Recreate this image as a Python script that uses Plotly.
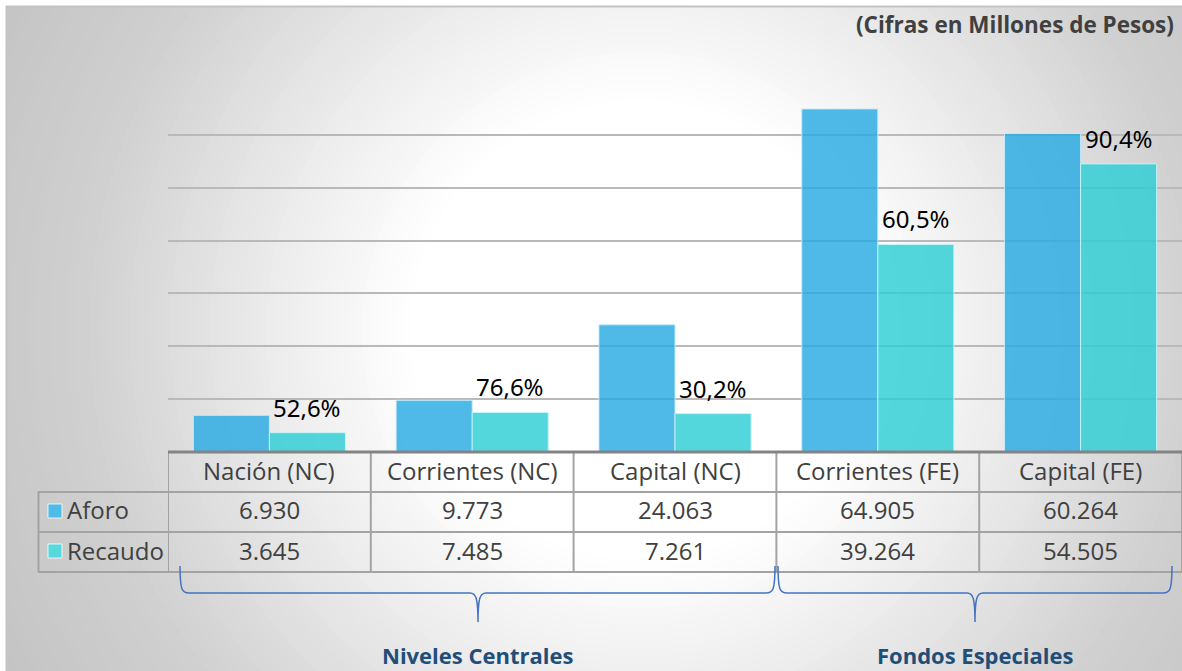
import plotly.graph_objects as go

# ---------------- data ----------------
categorias = ["Nación (NC)", "Corrientes (NC)", "Capital (NC)", "Corrientes (FE)", "Capital (FE)"]
aforo = [6930, 9773, 24063, 64905, 60264]
recaudo = [3645, 7485, 7261, 39264, 54505]
porcentaje = [52.6, 76.6, 30.2, 60.5, 90.4]
series = ["Aforo", "Recaudo"]
grupos = ["Niveles Centrales", "Fondos Especiales"]
titulo = "(Cifras en Millones de Pesos)"

# ---------------- geometry helpers ----------------
W, H = 1182, 671
def px(x):
    return x / W
def py(y):
    return 1 - y / H

C_AFORO = "rgba(40,170,226,0.82)"
C_RECAUDO = "rgba(45,206,214,0.82)"
C_AFORO_SOLID = "#4FBBE8"
C_RECAUDO_SOLID = "#57D8DE"
TXT = "#404040"
BLUE = "#4472C4"
DARKBLUE = "#1F4E79"
BARGAP = 0.25

fig = go.Figure()
fig.add_trace(go.Bar(
    x=categorias, y=aforo, name=series[0],
    marker=dict(color=C_AFORO, line=dict(color="rgba(200,236,252,0.9)", width=1)),
    hoverinfo="x+y",
))
fig.add_trace(go.Bar(
    x=categorias, y=recaudo, name=series[1],
    marker=dict(color=C_RECAUDO, line=dict(color="rgba(200,245,248,0.9)", width=1)),
    hoverinfo="x+y",
))

shapes = []

# ---------------- background radial gradient ----------------
cx, cy = 640, 330
stops = [(0, 255), (230, 255), (400, 232), (560, 208), (720, 196), (950, 188)]
def gray_at(r):
    for (r0, g0), (r1, g1) in zip(stops[:-1], stops[1:]):
        if r <= r1:
            return g0 + (g1 - g0) * (r - r0) / (r1 - r0)
    return stops[-1][1]
r = 950
while r >= 230:
    g = int(round(gray_at(r)))
    shapes.append(dict(type="circle", xref="paper", yref="paper", layer="below",
                       x0=px(cx - r), x1=px(cx + r), y0=py(cy + r), y1=py(cy - r),
                       fillcolor=f"rgb({g},{g},{g})", line=dict(width=0)))
    r -= 8
shapes.append(dict(type="rect", xref="paper", yref="paper", layer="below",
                   x0=px(-5), x1=px(W + 5), y0=py(6), y1=py(-5), fillcolor="white", line=dict(width=0)))
shapes.append(dict(type="rect", xref="paper", yref="paper", layer="below",
                   x0=px(-5), x1=px(6), y0=py(H + 5), y1=py(-5), fillcolor="white", line=dict(width=0)))
shapes.append(dict(type="line", xref="paper", yref="paper", layer="below",
                   x0=px(6), x1=px(W), y0=py(6.5), y1=py(6.5), line=dict(color="#c4c4c4", width=2)))
shapes.append(dict(type="line", xref="paper", yref="paper", layer="below",
                   x0=px(6.5), x1=px(6.5), y0=py(6), y1=py(H), line=dict(color="#c4c4c4", width=2)))

# ---------------- data table ----------------
GRID = "#a3a3a3"
n = len(categorias)
for k in range(n + 1):
    shapes.append(dict(type="line", xref="x", yref="paper", x0=k - 0.5, x1=k - 0.5,
                       y0=py(452), y1=py(572), line=dict(color=GRID, width=2)))
shapes.append(dict(type="line", xref="paper", yref="paper", x0=px(38.5), x1=px(38.5),
                   y0=py(492), y1=py(572), line=dict(color=GRID, width=2)))
for yy in (492, 532, 572):
    shapes.append(dict(type="line", xref="paper", yref="paper", x0=px(38), x1=px(W),
                       y0=py(yy), y1=py(yy), line=dict(color=GRID, width=2)))
shapes.append(dict(type="line", xref="paper", yref="paper", x0=px(168), x1=px(W),
                   y0=py(452), y1=py(452), line=dict(color="#848484", width=3)))

for j, (col, yc) in enumerate(((C_AFORO_SOLID, 511), (C_RECAUDO_SOLID, 551))):
    shapes.append(dict(type="rect", xref="paper", yref="paper",
                       x0=px(48), x1=px(62), y0=py(yc + 7), y1=py(yc - 7),
                       fillcolor=col, line=dict(color="rgba(255,255,255,0.8)", width=1)))

# ---------------- braces ----------------
def path(pts):
    out = []
    for cmd, coords in pts:
        s = " ".join(f"{px(a):.5f},{py(b):.5f}" for a, b in coords)
        out.append(f"{cmd} {s}")
    return " ".join(out)

def brace(x0, x1, xt, ytop=566, ymid=593, ytip=622):
    return path([
        ("M", [(x0, ytop)]),
        ("C", [(x0, ymid - 3), (x0 + 2, ymid), (x0 + 9, ymid)]),
        ("L", [(xt - 8, ymid)]),
        ("C", [(xt - 2, ymid), (xt, ymid + 5), (xt, ytip)]),
        ("C", [(xt, ymid + 5), (xt + 2, ymid), (xt + 8, ymid)]),
        ("L", [(x1 - 9, ymid)]),
        ("C", [(x1 - 2, ymid), (x1, ymid - 3), (x1, ytop)]),
    ])

shapes.append(dict(type="path", xref="paper", yref="paper", path=brace(180, 775, 478),
                   line=dict(color=BLUE, width=1.5)))
shapes.append(dict(type="path", xref="paper", yref="paper", path=brace(778, 1172, 975),
                   line=dict(color=BLUE, width=1.5)))

# ---------------- annotations ----------------
ann = []
TF = "Open Sans"
rec_offset = (1 - BARGAP) / 4  # centre of the second bar within its category
for i, p in enumerate(porcentaje):
    ann.append(dict(x=i + rec_offset, xref="x", y=recaudo[i], yref="y",
                    text=(f"{p:.1f}%").replace(".", ","), showarrow=False,
                    xanchor="center", yanchor="bottom", yshift=7,
                    font=dict(family="Noto Sans", size=24, color="#000000")))
for i, cat in enumerate(categorias):
    ann.append(dict(x=i, xref="x", y=py(470.5), yref="paper", text=cat, showarrow=False,
                    xanchor="center", yanchor="middle", font=dict(family=TF, size=24, color=TXT)))
    ann.append(dict(x=i, xref="x", y=py(510), yref="paper", text=f"{aforo[i]:,}".replace(",", "."),
                    showarrow=False, xanchor="center", yanchor="middle",
                    font=dict(family=TF, size=24, color=TXT)))
    ann.append(dict(x=i, xref="x", y=py(550), yref="paper", text=f"{recaudo[i]:,}".replace(",", "."),
                    showarrow=False, xanchor="center", yanchor="middle",
                    font=dict(family=TF, size=24, color=TXT)))
for s, yc in zip(series, (510, 550)):
    ann.append(dict(x=px(65), xref="paper", y=py(yc), yref="paper", text=s, showarrow=False,
                    xanchor="left", yanchor="middle", font=dict(family=TF, size=24, color=TXT)))

for g, xc in zip(grupos, (478, 975)):
    ann.append(dict(x=px(xc), xref="paper", y=py(655), yref="paper", text=f"<b>{g}</b>",
                    showarrow=False, xanchor="center", yanchor="middle",
                    font=dict(family=TF, size=22, color=DARKBLUE)))

ann.append(dict(x=px(1176), xref="paper", y=py(25), yref="paper", text=f"<b>{titulo}</b>",
                showarrow=False, xanchor="right", yanchor="middle",
                font=dict(family=TF, size=22.5, color=TXT)))

fig.update_layout(
    width=W, height=H,
    margin=dict(l=0, r=0, t=0, b=0, pad=0),
    paper_bgcolor="white", plot_bgcolor="rgba(0,0,0,0)",
    barmode="group", bargap=BARGAP, bargroupgap=0,
    showlegend=False,
    shapes=shapes, annotations=ann,
    xaxis=dict(domain=[px(168), 1], range=[-0.5, 4.5], showticklabels=False,
               showgrid=False, zeroline=False, showline=False, fixedrange=True),
    yaxis=dict(domain=[py(452), py(82)], range=[0, 70000], dtick=10000,
               showticklabels=False, showgrid=True, gridcolor="#b9b9b9", gridwidth=1.5,
               zeroline=False, showline=False, fixedrange=True),
    font=dict(family=TF),
)

fig.write_html("out.html", config={"displayModeBar": False},
               post_script="document.body.style.margin='0px';document.body.style.overflow='hidden';")
